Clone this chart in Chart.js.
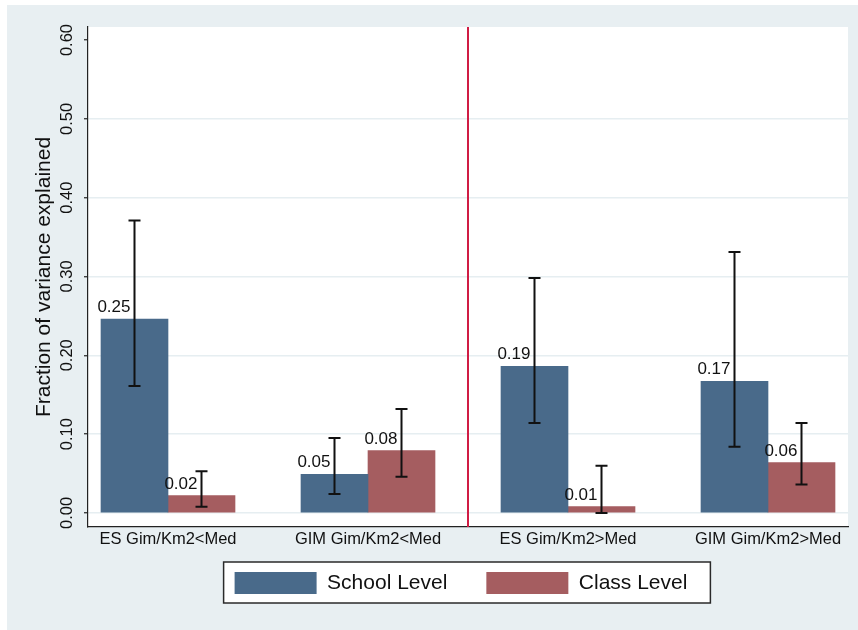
<!DOCTYPE html>
<html>
<head>
<meta charset="utf-8">
<script src="https://cdn.jsdelivr.net/npm/chart.js@4/dist/chart.umd.min.js"></script>
<style>
  html, body { margin: 0; padding: 0; background: #ffffff; }
  canvas { display: block; }
</style>
</head>
<body>
<canvas id="chart" width="858" height="630"></canvas>
<script>
// Groups along the x axis
const categories = ['ES Gim/Km2<Med', 'GIM Gim/Km2<Med', 'ES Gim/Km2>Med', 'GIM Gim/Km2>Med'];
const seriesNames = ['School Level', 'Class Level'];

// Fraction of variance explained, with confidence interval bounds
const schoolValues = [0.246, 0.049, 0.186, 0.167];
const schoolLow    = [0.161, 0.024, 0.114, 0.084];
const schoolHigh   = [0.371, 0.095, 0.298, 0.331];

const classValues  = [0.022, 0.079, 0.008, 0.064];
const classLow     = [0.008, 0.046, 0.000, 0.036];
const classHigh    = [0.053, 0.132, 0.060, 0.114];

const yTicks = [0, 0.1, 0.2, 0.3, 0.4, 0.5, 0.6];
const dividerAt = 2.5; // separates the "<Med" groups from the ">Med" groups

const FONT = '"Liberation Sans", Arial, Helvetica, sans-serif';
Chart.defaults.font.family = FONT;
Chart.defaults.color = '#111111';

const intervals = [
  { low: schoolLow, high: schoolHigh },
  { low: classLow, high: classHigh }
];

const decorations = {
  id: 'decorations',
  afterLayout(chart) {
    // centre the legend under the plot region, just below the axis labels
    const lg = chart.legend, a = chart.chartArea;
    const h = lg.height;
    lg.left = a.left - 7;
    lg.right = a.right - 7;
    lg.width = lg.right - lg.left;
    lg.top = a.bottom + 6;
    lg.bottom = lg.top + h;
  },
  beforeDraw(chart) {
    const ctx = chart.ctx, a = chart.chartArea;
    ctx.save();
    ctx.fillStyle = '#ffffff';
    ctx.fillRect(0, 0, chart.width, chart.height);
    ctx.fillStyle = '#e8eff2';
    ctx.fillRect(7, 5, chart.width - 7, chart.height - 5);
    ctx.fillStyle = '#ffffff';
    ctx.fillRect(a.left, a.top, a.right - a.left, a.bottom - a.top);
    // framed legend box
    const hb = chart.legend.legendHitBoxes;
    if (hb && hb.length) {
      const first = hb[0], last = hb[hb.length - 1];
      const x0 = first.left - 11, x1 = last.left + last.width + 23;
      const y0 = first.top - 10, y1 = first.top + first.height + 9;
      ctx.fillStyle = '#ffffff';
      ctx.fillRect(x0, y0, x1 - x0, y1 - y0);
      ctx.strokeStyle = '#2a2a2a';
      ctx.lineWidth = 1.5;
      ctx.strokeRect(x0, y0, x1 - x0, y1 - y0);
    }
    ctx.restore();
  },
  beforeDatasetsDraw(chart) {
    const ctx = chart.ctx, a = chart.chartArea;
    const x = chart.scales.x.getPixelForValue(dividerAt);
    ctx.save();
    ctx.strokeStyle = '#d01c44';
    ctx.lineWidth = 2;
    ctx.beginPath();
    ctx.moveTo(x, a.top);
    ctx.lineTo(x, a.bottom);
    ctx.stroke();
    ctx.restore();
  },
  afterDatasetsDraw(chart) {
    const ctx = chart.ctx, y = chart.scales.y;
    ctx.save();
    chart.data.datasets.forEach((ds, di) => {
      const meta = chart.getDatasetMeta(di);
      const ci = intervals[di];
      meta.data.forEach((bar, i) => {
        // confidence interval whisker
        const yl = y.getPixelForValue(ci.low[i]);
        const yh = y.getPixelForValue(ci.high[i]);
        ctx.strokeStyle = '#111111';
        ctx.lineWidth = 2;
        ctx.beginPath();
        ctx.moveTo(bar.x, yl); ctx.lineTo(bar.x, yh);
        ctx.moveTo(bar.x - 6, yl); ctx.lineTo(bar.x + 6, yl);
        ctx.moveTo(bar.x - 6, yh); ctx.lineTo(bar.x + 6, yh);
        ctx.stroke();
        // value label
        ctx.fillStyle = '#111111';
        ctx.font = '17px ' + FONT;
        ctx.textAlign = 'right';
        ctx.textBaseline = 'alphabetic';
        ctx.fillText(ds.data[i].y.toFixed(2), bar.x - 4, bar.y - 7);
      });
    });
    ctx.restore();
  }
};

new Chart(document.getElementById('chart'), {
  type: 'bar',
  data: {
    datasets: [
      {
        label: seriesNames[0],
        data: schoolValues.map((v, i) => ({ x: i + 1, y: v })),
        backgroundColor: '#496a8a',
        borderWidth: 0,
        barThickness: 67
      },
      {
        label: seriesNames[1],
        data: classValues.map((v, i) => ({ x: i + 1, y: v })),
        backgroundColor: '#a55d60',
        borderWidth: 0,
        barThickness: 67
      }
    ]
  },
  options: {
    responsive: false,
    animation: false,
    devicePixelRatio: 1,
    layout: { padding: { top: 27, right: 10, bottom: 0, left: 0 } },
    plugins: {
      tooltip: { enabled: false },
      legend: {
        display: true,
        position: 'bottom',
        align: 'center',
        labels: {
          boxWidth: 82,
          boxHeight: 22,
          padding: 39,
          font: { size: 21 },
          color: '#111111'
        }
      }
    },
    scales: {
      x: {
        type: 'linear',
        min: 0.6,
        max: 4.4,
        offset: false,
        afterBuildTicks: s => { s.ticks = categories.map((_, i) => ({ value: i + 1 })); },
        afterFit: s => { s.height = 32; },
        ticks: {
          autoSkip: false,
          minRotation: 0,
          maxRotation: 0,
          padding: 3,
          font: { size: 16.5 },
          color: '#111111',
          callback: (v, idx) => categories[idx]
        },
        grid: { display: false, drawTicks: false, offset: false },
        border: { display: true, color: '#222222', width: 1.2 }
      },
      y: {
        type: 'linear',
        min: -0.0178,
        max: 0.6165,
        afterBuildTicks: s => { s.ticks = yTicks.map(v => ({ value: v })); },
        afterFit: s => { s.width = 88; },
        ticks: {
          minRotation: 90,
          maxRotation: 90,
          crossAlign: 'center',
          padding: 0,
          font: { size: 16.5 },
          color: '#111111',
          callback: v => v.toFixed(2)
        },
        grid: {
          color: c => (c.tick && c.tick.value === 0.6) ? 'rgba(0,0,0,0)' : '#e6eef1',
          lineWidth: 1.5,
          drawTicks: true,
          tickLength: 4,
          tickColor: '#222222',
          tickWidth: 1.2
        },
        border: { display: true, color: '#222222', width: 1.2 },
        title: {
          display: true,
          text: 'Fraction of variance explained',
          font: { size: 21 },
          color: '#111111',
          padding: { top: 32, bottom: 0 }
        }
      }
    }
  },
  plugins: [decorations]
});
</script>
</body>
</html>
